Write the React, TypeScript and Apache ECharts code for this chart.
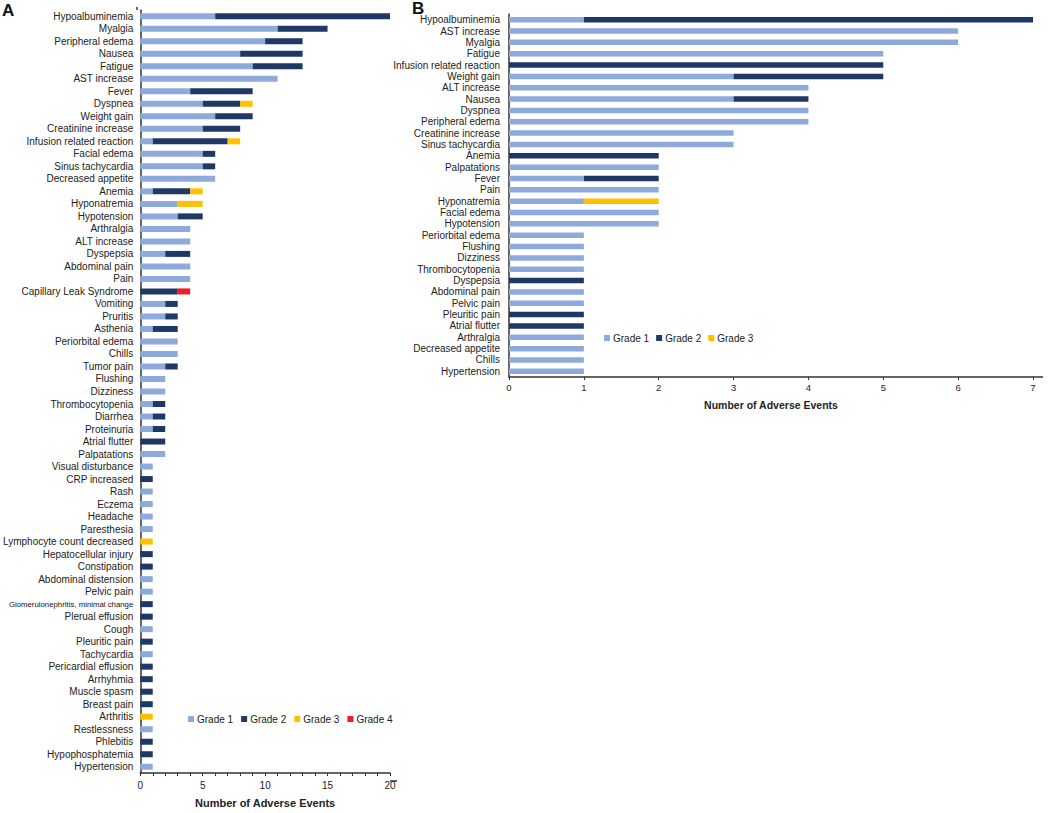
import React, { useEffect, useRef } from "react";
import * as echarts from "echarts";

const categoriesA = [
  "Hypoalbuminemia", "Myalgia", "Peripheral edema", "Nausea", "Fatigue", "AST increase", "Fever", "Dyspnea",
  "Weight gain", "Creatinine increase", "Infusion related reaction", "Facial edema", "Sinus tachycardia",
  "Decreased appetite", "Anemia", "Hyponatremia", "Hypotension", "Arthralgia", "ALT increase", "Dyspepsia",
  "Abdominal pain", "Pain", "Capillary Leak Syndrome", "Vomiting", "Pruritis", "Asthenia", "Periorbital edema",
  "Chills", "Tumor pain", "Flushing", "Dizziness", "Thrombocytopenia", "Diarrhea", "Proteinuria",
  "Atrial flutter", "Palpatations", "Visual disturbance", "CRP increased", "Rash", "Eczema", "Headache",
  "Paresthesia", "Lymphocyte count decreased", "Hepatocellular injury", "Constipation", "Abdominal distension",
  "Pelvic pain", "Glomerulonephritis, minimal change", "Plerual effusion", "Cough", "Pleuritic pain",
  "Tachycardia", "Pericardial effusion", "Arrhyhmia", "Muscle spasm", "Breast pain", "Arthritis",
  "Restlessness", "Phlebitis", "Hypophosphatemia", "Hypertension",
];
const grade1A = [6, 11, 10, 8, 9, 11, 4, 5, 6, 5, 1, 5, 5, 6, 1, 3, 3, 4, 4, 2, 4, 4, 0, 2, 2, 1, 3, 3, 2, 2, 2, 1, 1, 1, 0, 2, 1, 0, 1, 1, 1, 1, 0, 0, 0, 1, 1, 0, 0, 1, 0, 1, 0, 0, 0, 0, 0, 1, 0, 0, 1];
const grade2A = [14, 4, 3, 5, 4, 0, 5, 3, 3, 3, 6, 1, 1, 0, 3, 0, 2, 0, 0, 2, 0, 0, 3, 1, 1, 2, 0, 0, 1, 0, 0, 1, 1, 1, 2, 0, 0, 1, 0, 0, 0, 0, 0, 1, 1, 0, 0, 1, 1, 0, 1, 0, 1, 1, 1, 1, 0, 0, 1, 1, 0];
const grade3A = [0, 0, 0, 0, 0, 0, 0, 1, 0, 0, 1, 0, 0, 0, 1, 2, 0, 0, 0, 0, 0, 0, 0, 0, 0, 0, 0, 0, 0, 0, 0, 0, 0, 0, 0, 0, 0, 0, 0, 0, 0, 0, 1, 0, 0, 0, 0, 0, 0, 0, 0, 0, 0, 0, 0, 0, 1, 0, 0, 0, 0];
const grade4A = [0, 0, 0, 0, 0, 0, 0, 0, 0, 0, 0, 0, 0, 0, 0, 0, 0, 0, 0, 0, 0, 0, 1, 0, 0, 0, 0, 0, 0, 0, 0, 0, 0, 0, 0, 0, 0, 0, 0, 0, 0, 0, 0, 0, 0, 0, 0, 0, 0, 0, 0, 0, 0, 0, 0, 0, 0, 0, 0, 0, 0];

const categoriesB = [
  "Hypoalbuminemia", "AST increase", "Myalgia", "Fatigue", "Infusion related reaction", "Weight gain",
  "ALT increase", "Nausea", "Dyspnea", "Peripheral edema", "Creatinine increase", "Sinus tachycardia",
  "Anemia", "Palpatations", "Fever", "Pain", "Hyponatremia", "Facial edema", "Hypotension",
  "Periorbital edema", "Flushing", "Dizziness", "Thrombocytopenia", "Dyspepsia", "Abdominal pain",
  "Pelvic pain", "Pleuritic pain", "Atrial flutter", "Arthralgia", "Decreased appetite", "Chills", "Hypertension",
];
const grade1B = [1, 6, 6, 5, 0, 3, 4, 3, 4, 4, 3, 3, 0, 2, 1, 2, 1, 2, 2, 1, 1, 1, 1, 0, 1, 1, 0, 0, 1, 1, 1, 1];
const grade2B = [6, 0, 0, 0, 5, 2, 0, 1, 0, 0, 0, 0, 2, 0, 1, 0, 0, 0, 0, 0, 0, 0, 0, 1, 0, 0, 1, 1, 0, 0, 0, 0];
const grade3B = [0, 0, 0, 0, 0, 0, 0, 0, 0, 0, 0, 0, 0, 0, 0, 0, 1, 0, 0, 0, 0, 0, 0, 0, 0, 0, 0, 0, 0, 0, 0, 0];

const gradeNames = ["Grade 1", "Grade 2", "Grade 3", "Grade 4"];
const gradeColors = ["#8eaadb", "#1f3864", "#ffc000", "#ee1c25"];
const xTitle = "Number of Adverse Events";

const FONT = "Liberation Sans, Arial, sans-serif";

export default function App() {
  const ref = useRef<HTMLDivElement>(null);
  useEffect(() => {
    document.body.style.margin = "0";
    const chart = echarts.init(ref.current!, null, { renderer: "svg" });
    const axisLineStyle = { color: "#333", width: 1.5 };
    const seriesA = [grade1A, grade2A, grade3A, grade4A].map((d, i) => ({
      name: gradeNames[i],
      type: "bar",
      stack: "A",
      xAxisIndex: 0,
      yAxisIndex: 0,
      barWidth: 6,
      itemStyle: { color: gradeColors[i] },
      data: d,
    }));
    const seriesB = [grade1B, grade2B, grade3B].map((d, i) => ({
      name: gradeNames[i],
      type: "bar",
      stack: "B",
      xAxisIndex: 1,
      yAxisIndex: 1,
      barWidth: 5.5,
      itemStyle: { color: gradeColors[i] },
      data: d,
    }));
    const gA = { left: 137, top: 10, width: 253, height: 771 };
    const gB = { left: 509, top: 14, width: 524, height: 363 };
    chart.setOption({
      animation: false,
      textStyle: { fontFamily: FONT },
      grid: [gA, gB],
      xAxis: [
        {
          gridIndex: 0,
          type: "value",
          min: 0,
          max: 20,
          interval: 1,
          splitLine: { show: false },
          axisLine: { show: true, lineStyle: axisLineStyle },
          axisTick: { show: true, length: 3, lineStyle: { color: "#333" } },
          axisLabel: {
            fontSize: 10,
            color: "#222",
            margin: 7,
            formatter: (v: number) => (v % 5 === 0 ? String(v) : ""),
          },
          name: xTitle,
          nameLocation: "middle",
          nameGap: 24,
          nameTextStyle: { fontSize: 11, fontWeight: "bold", color: "#222" },
        },
        {
          gridIndex: 1,
          type: "value",
          min: 0,
          max: 7,
          interval: 1,
          splitLine: { show: false },
          axisLine: { show: true, lineStyle: axisLineStyle },
          axisTick: { show: true, length: 3, lineStyle: { color: "#333" } },
          axisLabel: { fontSize: 9.5, color: "#222", margin: 5 },
          name: xTitle,
          nameLocation: "middle",
          nameGap: 22,
          nameTextStyle: { fontSize: 10.5, fontWeight: "bold", color: "#222" },
        },
      ],
      yAxis: [
        {
          gridIndex: 0,
          type: "category",
          inverse: true,
          data: categoriesA,
          axisLine: { show: true, lineStyle: axisLineStyle },
          axisTick: { show: false },
          axisLabel: {
            fontSize: 10,
            color: "#222",
            margin: 7,
            interval: 0,
            formatter: (v: string) => (v.startsWith("Glomerulonephritis") ? `{s|${v}}` : v),
            rich: { s: { fontSize: 7.8, color: "#111", fontFamily: FONT } },
          },
        },
        {
          gridIndex: 1,
          type: "category",
          inverse: true,
          data: categoriesB,
          axisLine: { show: true, lineStyle: axisLineStyle },
          axisTick: { show: false },
          axisLabel: { fontSize: 10, color: "#222", margin: 9, interval: 0 },
        },
      ],
      legend: [
        {
          left: 183,
          top: 709,
          data: gradeNames,
          icon: "rect",
          itemWidth: 6,
          itemHeight: 6,
          itemGap: 8,
          textStyle: { fontSize: 10, color: "#222", padding: [0, 0, 0, -2] },
        },
        {
          left: 599,
          top: 328,
          data: gradeNames.slice(0, 3),
          icon: "rect",
          itemWidth: 6,
          itemHeight: 6,
          itemGap: 7,
          textStyle: { fontSize: 10, color: "#222", padding: [0, 0, 0, -2] },
        },
      ],
      graphic: [
        { type: "text", left: 2, top: 2, style: { text: "A", font: `bold 17px ${FONT}`, fill: "#111" } },
        { type: "text", left: 412, top: 0, style: { text: "B", font: `bold 17px ${FONT}`, fill: "#111" } },
        {
          type: "line",
          shape: { x1: gA.left + gA.width, y1: gA.top + gA.height, x2: gA.left + gA.width + 7, y2: gA.top + gA.height },
          style: { stroke: "#333", lineWidth: 1.5 },
        },
        {
          type: "line",
          shape: { x1: gB.left + gB.width, y1: gB.top + gB.height, x2: gB.left + gB.width + 10, y2: gB.top + gB.height },
          style: { stroke: "#333", lineWidth: 1.5 },
        },
        {
          type: "line",
          shape: { x1: gA.left, y1: gA.top - 3, x2: gA.left, y2: gA.top },
          style: { stroke: "#333", lineWidth: 1.5 },
        },
      ],
      series: [...seriesA, ...seriesB],
    });
    return () => chart.dispose();
  }, []);
  return <div ref={ref} style={{ width: 1050, height: 813 }} />;
}
